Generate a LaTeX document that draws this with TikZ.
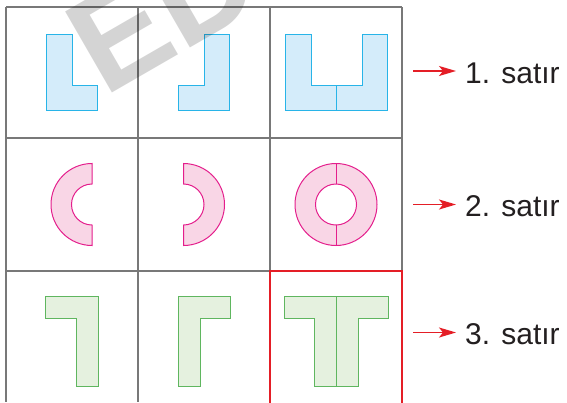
\documentclass[tikz,border=0pt]{standalone}
\usepackage{fontspec}
\newfontfamily\labfont{Liberation Sans}
\usetikzlibrary{arrows.meta}
\definecolor{gridgray}{RGB}{120,120,120}
\definecolor{bstroke}{RGB}{40,180,232}
\definecolor{bfill}{RGB}{212,236,250}
\definecolor{pstroke}{RGB}{228,30,140}
\definecolor{pfill}{RGB}{249,214,230}
\definecolor{gstroke}{RGB}{95,182,95}
\definecolor{gfill}{RGB}{229,241,223}
\definecolor{redline}{RGB}{228,30,38}
\definecolor{txt}{RGB}{35,31,32}
\begin{document}
\begin{tikzpicture}[x=1pt,y=-1pt,
  gridline/.style={draw=gridgray,line width=1.4pt},
  blueshape/.style={draw=bstroke,fill=bfill,line width=1pt,line join=miter},
  pinkshape/.style={draw=pstroke,fill=pfill,line width=1pt},
  greenshape/.style={draw=gstroke,fill=gfill,line width=1pt,line join=miter},
  redarrow/.style={draw=redline,line width=1.5pt,-{Stealth[length=17pt,width=10pt,inset=4pt]}},
  rowlabel/.style={anchor=base west,inner sep=0pt,text=txt,font=\labfont\fontsize{30}{30}\selectfont},
  watermark/.style={anchor=base west,inner sep=0pt,rotate=30,text=black,opacity=0.17,font=\labfont\bfseries\fontsize{136}{136}\selectfont}]
\useasboundingbox (0,0) rectangle (567,402);
% grid
\draw[gridline] (6,7) -- (402,7);
\draw[gridline] (6,138) -- (402,138);
\draw[gridline] (6,271) -- (402,271);
\draw[gridline] (6,7) -- (6,402);
\draw[gridline] (138,7) -- (138,402);
\draw[gridline] (270,7) -- (270,402);
\draw[gridline] (402,7) -- (402,402);
% red frame
\draw[draw=redline,line width=1.5pt] (270,410) -- (270,271) -- (402,271) -- (402,410);
% row 1
\path[blueshape] (46,34) -- (72,34) -- (72,85) -- (97,85) -- (97,110) -- (46,110) -- cycle;
\path[blueshape] (204,34) -- (229,34) -- (229,110) -- (178,110) -- (178,85) -- (204,85) -- cycle;
\path[blueshape] (285,34) -- (311,34) -- (311,85) -- (362,85) -- (362,34) -- (387,34) -- (387,110) -- (285,110) -- cycle;
\draw[draw=bstroke,line width=1pt] (336,85) -- (336,110);
% row 2
\path[pinkshape] (92,163.5) arc[start angle=90,end angle=270,radius=41pt] -- (92,225) arc[start angle=270,end angle=90,radius=20.5pt] -- cycle;
\path[pinkshape] (183.5,163.5) arc[start angle=90,end angle=-90,radius=41pt] -- (183.5,225) arc[start angle=-90,end angle=90,radius=20.5pt] -- cycle;
\path[pinkshape,even odd rule] (336,204.5) circle[radius=41pt] (336,204.5) circle[radius=20.5pt];
\draw[draw=pstroke,line width=1pt] (336,163.5) -- (336,184) (336,225) -- (336,245.5);
% row 3
\path[greenshape] (45,296) -- (98,296) -- (98,386) -- (76,386) -- (76,318) -- (45,318) -- cycle;
\path[greenshape] (178,296) -- (230,296) -- (230,318) -- (200,318) -- (200,386) -- (178,386) -- cycle;
\path[greenshape] (284,296) -- (388,296) -- (388,318) -- (358,318) -- (358,386) -- (314,386) -- (314,318) -- (284,318) -- cycle;
\draw[draw=gstroke,line width=1pt] (336,296) -- (336,386);
% labels and arrows
\coordinate (a1) at (413,71);
\coordinate (a2) at (413,204.5);
\coordinate (a3) at (413,332.5);
\coordinate (b1) at (456,71);
\coordinate (b2) at (456,204.5);
\coordinate (b3) at (456,332.5);
\node[rowlabel] (l1) at (465,83.5) {1. satır};
\node[rowlabel] (l2) at (465,216.5) {2. satır};
\node[rowlabel] (l3) at (465,344) {3. satır};
\draw[redarrow] (a1) -- (b1);
\draw[redarrow] (a2) -- (b2);
\draw[redarrow] (a3) -- (b3);
% watermark
\begin{scope}
\clip (0,0) rectangle (567,402);
\node[watermark] (wm) at (104,98) {EDU};
\end{scope}
\end{tikzpicture}
\end{document}
